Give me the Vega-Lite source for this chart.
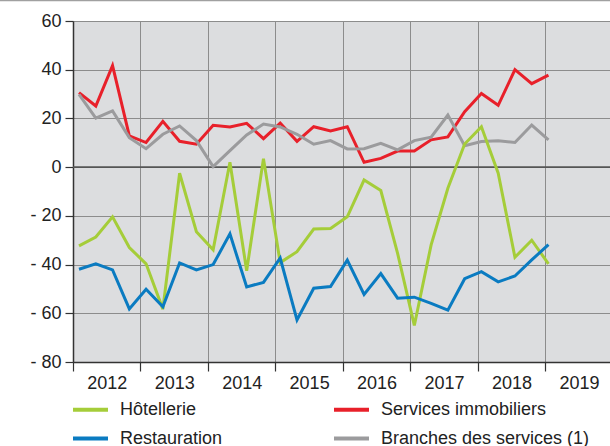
{
  "$schema": "https://vega.github.io/schema/vega-lite/v6.json",
  "width": 537,
  "height": 341,
  "autosize": {"type": "none"},
  "padding": {"left": 73, "top": 21, "right": 0, "bottom": 84},
  "background": "#ffffff",
  "config": {
    "view": {"fill": "#dcdddf", "stroke": null},
    "font": "Liberation Sans",
    "axis": {"labelFont": "Liberation Sans", "labelColor": "#222222", "labelFontSize": 18, "title": null, "gridColor": "#8c8c8c", "gridWidth": 1, "gridOpacity": 1, "domainColor": "#333333", "domainWidth": 1.5, "tickColor": "#333333", "tickWidth": 1.2, "tickSize": 8},
    "legend": {"labelFont": "Liberation Sans", "labelFontSize": 18, "labelColor": "#222222", "padding": 0}
  },
  "datasets": {
    "series": [
      {"t": 2012.089, "s": "Services immobiliers", "v": 30.6},
      {"t": 2012.338, "s": "Services immobiliers", "v": 25.1},
      {"t": 2012.586, "s": "Services immobiliers", "v": 41.7},
      {"t": 2012.835, "s": "Services immobiliers", "v": 12.8},
      {"t": 2013.083, "s": "Services immobiliers", "v": 10.1},
      {"t": 2013.332, "s": "Services immobiliers", "v": 18.8},
      {"t": 2013.580, "s": "Services immobiliers", "v": 10.6},
      {"t": 2013.829, "s": "Services immobiliers", "v": 9.4},
      {"t": 2014.077, "s": "Services immobiliers", "v": 17.2},
      {"t": 2014.326, "s": "Services immobiliers", "v": 16.5},
      {"t": 2014.574, "s": "Services immobiliers", "v": 18.0},
      {"t": 2014.823, "s": "Services immobiliers", "v": 11.7},
      {"t": 2015.071, "s": "Services immobiliers", "v": 18.1},
      {"t": 2015.320, "s": "Services immobiliers", "v": 10.6},
      {"t": 2015.568, "s": "Services immobiliers", "v": 16.6},
      {"t": 2015.817, "s": "Services immobiliers", "v": 14.9},
      {"t": 2016.065, "s": "Services immobiliers", "v": 16.6},
      {"t": 2016.314, "s": "Services immobiliers", "v": 2.0},
      {"t": 2016.562, "s": "Services immobiliers", "v": 3.6},
      {"t": 2016.811, "s": "Services immobiliers", "v": 6.6},
      {"t": 2017.059, "s": "Services immobiliers", "v": 6.6},
      {"t": 2017.308, "s": "Services immobiliers", "v": 11.2},
      {"t": 2017.556, "s": "Services immobiliers", "v": 12.4},
      {"t": 2017.805, "s": "Services immobiliers", "v": 22.8},
      {"t": 2018.053, "s": "Services immobiliers", "v": 30.2},
      {"t": 2018.302, "s": "Services immobiliers", "v": 25.4},
      {"t": 2018.550, "s": "Services immobiliers", "v": 40.0},
      {"t": 2018.799, "s": "Services immobiliers", "v": 34.3},
      {"t": 2019.047, "s": "Services immobiliers", "v": 37.8},

      {"t": 2012.089, "s": "Branches des services (1)", "v": 29.9},
      {"t": 2012.338, "s": "Branches des services (1)", "v": 20.1},
      {"t": 2012.586, "s": "Branches des services (1)", "v": 23.1},
      {"t": 2012.835, "s": "Branches des services (1)", "v": 12.1},
      {"t": 2013.083, "s": "Branches des services (1)", "v": 7.6},
      {"t": 2013.332, "s": "Branches des services (1)", "v": 13.5},
      {"t": 2013.580, "s": "Branches des services (1)", "v": 16.9},
      {"t": 2013.829, "s": "Branches des services (1)", "v": 10.9},
      {"t": 2014.077, "s": "Branches des services (1)", "v": 0.2},
      {"t": 2014.326, "s": "Branches des services (1)", "v": 6.8},
      {"t": 2014.574, "s": "Branches des services (1)", "v": 13.2},
      {"t": 2014.823, "s": "Branches des services (1)", "v": 17.7},
      {"t": 2015.071, "s": "Branches des services (1)", "v": 16.5},
      {"t": 2015.320, "s": "Branches des services (1)", "v": 13.5},
      {"t": 2015.568, "s": "Branches des services (1)", "v": 9.4},
      {"t": 2015.817, "s": "Branches des services (1)", "v": 10.9},
      {"t": 2016.065, "s": "Branches des services (1)", "v": 7.5},
      {"t": 2016.314, "s": "Branches des services (1)", "v": 7.6},
      {"t": 2016.562, "s": "Branches des services (1)", "v": 9.8},
      {"t": 2016.811, "s": "Branches des services (1)", "v": 7.1},
      {"t": 2017.059, "s": "Branches des services (1)", "v": 10.9},
      {"t": 2017.308, "s": "Branches des services (1)", "v": 12.3},
      {"t": 2017.556, "s": "Branches des services (1)", "v": 21.4},
      {"t": 2017.805, "s": "Branches des services (1)", "v": 8.8},
      {"t": 2018.053, "s": "Branches des services (1)", "v": 10.5},
      {"t": 2018.302, "s": "Branches des services (1)", "v": 10.8},
      {"t": 2018.550, "s": "Branches des services (1)", "v": 10.1},
      {"t": 2018.799, "s": "Branches des services (1)", "v": 17.3},
      {"t": 2019.047, "s": "Branches des services (1)", "v": 11.2},

      {"t": 2012.089, "s": "Hôtellerie", "v": -32.3},
      {"t": 2012.338, "s": "Hôtellerie", "v": -28.7},
      {"t": 2012.586, "s": "Hôtellerie", "v": -20.4},
      {"t": 2012.835, "s": "Hôtellerie", "v": -33.0},
      {"t": 2013.083, "s": "Hôtellerie", "v": -39.7},
      {"t": 2013.332, "s": "Hôtellerie", "v": -58.3},
      {"t": 2013.580, "s": "Hôtellerie", "v": -2.5},
      {"t": 2013.829, "s": "Hôtellerie", "v": -26.5},
      {"t": 2014.077, "s": "Hôtellerie", "v": -33.9},
      {"t": 2014.326, "s": "Hôtellerie", "v": 2.0},
      {"t": 2014.574, "s": "Hôtellerie", "v": -42.5},
      {"t": 2014.823, "s": "Hôtellerie", "v": 3.5},
      {"t": 2015.071, "s": "Hôtellerie", "v": -39.2},
      {"t": 2015.320, "s": "Hôtellerie", "v": -34.7},
      {"t": 2015.568, "s": "Hôtellerie", "v": -25.4},
      {"t": 2015.817, "s": "Hôtellerie", "v": -25.2},
      {"t": 2016.065, "s": "Hôtellerie", "v": -20.4},
      {"t": 2016.314, "s": "Hôtellerie", "v": -5.3},
      {"t": 2016.562, "s": "Hôtellerie", "v": -9.6},
      {"t": 2016.811, "s": "Hôtellerie", "v": -35.4},
      {"t": 2017.059, "s": "Hôtellerie", "v": -65.0},
      {"t": 2017.308, "s": "Hôtellerie", "v": -31.9},
      {"t": 2017.556, "s": "Hôtellerie", "v": -8.7},
      {"t": 2017.805, "s": "Hôtellerie", "v": 9.5},
      {"t": 2018.053, "s": "Hôtellerie", "v": 16.6},
      {"t": 2018.302, "s": "Hôtellerie", "v": -2.5},
      {"t": 2018.550, "s": "Hôtellerie", "v": -37.0},
      {"t": 2018.799, "s": "Hôtellerie", "v": -30.0},
      {"t": 2019.047, "s": "Hôtellerie", "v": -39.7},

      {"t": 2012.089, "s": "Restauration", "v": -41.9},
      {"t": 2012.338, "s": "Restauration", "v": -39.7},
      {"t": 2012.586, "s": "Restauration", "v": -42.2},
      {"t": 2012.835, "s": "Restauration", "v": -58.2},
      {"t": 2013.083, "s": "Restauration", "v": -50.1},
      {"t": 2013.332, "s": "Restauration", "v": -57.3},
      {"t": 2013.580, "s": "Restauration", "v": -39.3},
      {"t": 2013.829, "s": "Restauration", "v": -42.2},
      {"t": 2014.077, "s": "Restauration", "v": -40.0},
      {"t": 2014.326, "s": "Restauration", "v": -27.4},
      {"t": 2014.574, "s": "Restauration", "v": -49.2},
      {"t": 2014.823, "s": "Restauration", "v": -47.3},
      {"t": 2015.071, "s": "Restauration", "v": -37.3},
      {"t": 2015.320, "s": "Restauration", "v": -62.7},
      {"t": 2015.568, "s": "Restauration", "v": -49.7},
      {"t": 2015.817, "s": "Restauration", "v": -49.0},
      {"t": 2016.065, "s": "Restauration", "v": -38.2},
      {"t": 2016.314, "s": "Restauration", "v": -52.3},
      {"t": 2016.562, "s": "Restauration", "v": -43.7},
      {"t": 2016.811, "s": "Restauration", "v": -53.8},
      {"t": 2017.059, "s": "Restauration", "v": -53.4},
      {"t": 2017.308, "s": "Restauration", "v": -55.9},
      {"t": 2017.556, "s": "Restauration", "v": -58.7},
      {"t": 2017.805, "s": "Restauration", "v": -45.8},
      {"t": 2018.053, "s": "Restauration", "v": -42.9},
      {"t": 2018.302, "s": "Restauration", "v": -47.1},
      {"t": 2018.550, "s": "Restauration", "v": -44.7},
      {"t": 2018.799, "s": "Restauration", "v": -38.1},
      {"t": 2019.047, "s": "Restauration", "v": -31.8}
    ]
  },
  "layer": [
    {
      "data": {"values": [{"y": 0}]},
      "mark": {"type": "rule", "color": "#555555", "strokeWidth": 1.6},
      "encoding": {
        "y": {
          "field": "y", "type": "quantitative",
          "scale": {"domain": [-80, 60], "nice": false, "zero": false},
          "axis": {"values": [-80, -60, -40, -20, 0, 20, 40, 60], "labelExpr": "datum.value < 0 ? '- ' + abs(datum.value) : datum.label", "labelPadding": 4, "tickSize": 8, "grid": true}
        }
      }
    },
    {
      "data": {"values": [{"x": 2010.9, "x2": 2020.2, "y": 68.45}]},
      "mark": {"type": "rule", "color": "#a0a0a0", "strokeWidth": 1.5, "clip": false},
      "encoding": {
        "x": {"field": "x", "type": "quantitative"},
        "x2": {"field": "x2"},
        "y": {"field": "y", "type": "quantitative"}
      }
    },
    {
      "data": {"name": "series"},
      "mark": {"type": "line", "strokeWidth": 3, "strokeJoin": "miter", "clip": false},
      "encoding": {
        "x": {
          "field": "t", "type": "quantitative",
          "scale": {"domain": [2012, 2019.959], "nice": false, "zero": false},
          "axis": {"values": [2012, 2013, 2014, 2015, 2016, 2017, 2018, 2019], "format": "d", "labelOffset": 33.7, "labelFlush": false, "labelOverlap": false, "labelBound": false, "labelPadding": 3, "tickSize": 9, "grid": true}
        },
        "y": {"field": "v", "type": "quantitative"},
        "color": {
          "field": "s", "type": "nominal",
          "scale": {"domain": ["Hôtellerie", "Services immobiliers", "Restauration", "Branches des services (1)"], "range": ["#a5cd39", "#e8202a", "#0a7bc1", "#9b9b9d"]},
          "legend": {"title": null, "orient": "none", "direction": "horizontal", "legendX": -2, "legendY": 369, "columns": 2, "columnPadding": 103, "rowPadding": -7, "symbolType": "stroke", "symbolSize": 1225, "symbolStrokeWidth": 4, "labelOffset": 10, "labelFontSize": 18, "labelLimit": 400}
        },
        "order": {"field": "t", "type": "quantitative"}
      }
    }
  ]
}
